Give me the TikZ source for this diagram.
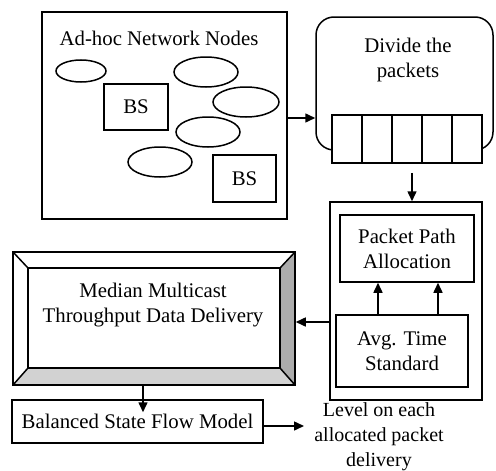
\documentclass[tikz,border=0pt]{standalone}
\usepackage{fontspec}
\setmainfont{Liberation Serif}
\usetikzlibrary{arrows.meta}
\begin{document}
\begin{tikzpicture}[x=1pt,y=-1pt,
  line width=1.5pt,
  lbl/.style={font=\fontsize{20.8}{25}\selectfont, align=center, inner sep=0pt},
  box/.style={draw, rectangle, inner sep=0pt, fill=white},
  cellbox/.style={box, minimum width=30pt, minimum height=48pt},
  arr/.style={-{Triangle[length=10pt,width=9pt]}}
]
\useasboundingbox (0,0) rectangle (496,471);

% network area with nodes and base stations
\node[box, minimum width=245pt, minimum height=207pt] (net) at (164.5,115.5) {};
\node[lbl] (nettitle) at (159,38) {Ad-hoc Network Nodes};
\draw (81,71) ellipse (25 and 11);
\draw (206,72) ellipse (32 and 15);
\draw (246,102) ellipse (33 and 15);
\draw (208,132) ellipse (32 and 15);
\draw (160,162) ellipse (32 and 15);
\node[box, lbl, draw, minimum width=64pt, minimum height=46pt] (bs1) at (136,107) {BS};
\node[box, lbl, draw, minimum width=63pt, minimum height=47pt] (bs2) at (244.5,178.5) {BS};

% packet division
\node[draw, rectangle, rounded corners=18pt, minimum width=177pt, minimum height=133pt] (div) at (404.5,83.5) {};
\node[lbl] (divtxt) at (408,60) {Divide the\\packets};
\foreach \i/\cx in {1/347,2/377,3/407,4/437,5/467}
  \node[cellbox] (c\i) at (\cx,139) {};

% path allocation group
\node[box, minimum width=152pt, minimum height=198pt] (grp) at (406,301) {};
\node[box, lbl, minimum width=134pt, minimum height=67pt] (path) at (407,248.5) {Packet Path\\Allocation};
\node[box, lbl, minimum width=132pt, minimum height=72pt] (avg) at (402,351) {Avg. Time\\Standard};

% bevelled delivery box
\coordinate (mo1) at (13,252);
\coordinate (mo2) at (295,252);
\coordinate (mo3) at (295,385);
\coordinate (mo4) at (13,385);
\coordinate (mi1) at (28,268);
\coordinate (mi2) at (280,268);
\coordinate (mi3) at (280,368);
\coordinate (mi4) at (28,368);
\fill[gray!35] (mo4) -- (mo3) -- (mi3) -- (mi4) -- cycle;
\fill[gray!65] (mo2) -- (mo3) -- (mi3) -- (mi2) -- cycle;
\draw (mo1) -- (mo2) -- (mo3) -- (mo4) -- cycle;
\draw (mi1) -- (mi2) -- (mi3) -- (mi4) -- cycle;
\draw (mo1) -- (mi1) (mo2) -- (mi2) (mo3) -- (mi3) (mo4) -- (mi4);
\node[inner sep=0pt, minimum width=282pt, minimum height=133pt] (med) at (154,318.5) {};
\node[lbl] (medtxt) at (153,305) {Median Multicast\\Throughput Data Delivery};

% flow model and its outcome
\node[box, lbl, minimum width=251pt, minimum height=43pt] (bal) at (137.5,421.5) {Balanced State Flow Model};
\node[lbl, font=\fontsize{20}{25}\selectfont] (lvl) at (379,437) {Level on each\\allocated packet\\delivery};
\coordinate (lvlin) at (304,426);

% connectors
\draw[arr] (net.east |- 0,118) -- (div.west |- 0,118);
\draw[arr, shorten <=9pt] ([xshift=5pt]c3.south) -- ([xshift=5pt]c3.south |- grp.north);
\draw[arr] (avg.north -| 378,0) -- (path.south -| 378,0);
\draw[arr] (avg.north -| 438,0) -- (path.south -| 438,0);
\draw[arr] (grp.west |- 0,322) -- (med.east |- 0,322);
\draw[arr, shorten >=-13pt] (med.south -| 143,0) -- (bal.north -| 143,0);
\draw[arr] (bal.east |- lvlin) -- (lvlin);
\end{tikzpicture}
\end{document}
